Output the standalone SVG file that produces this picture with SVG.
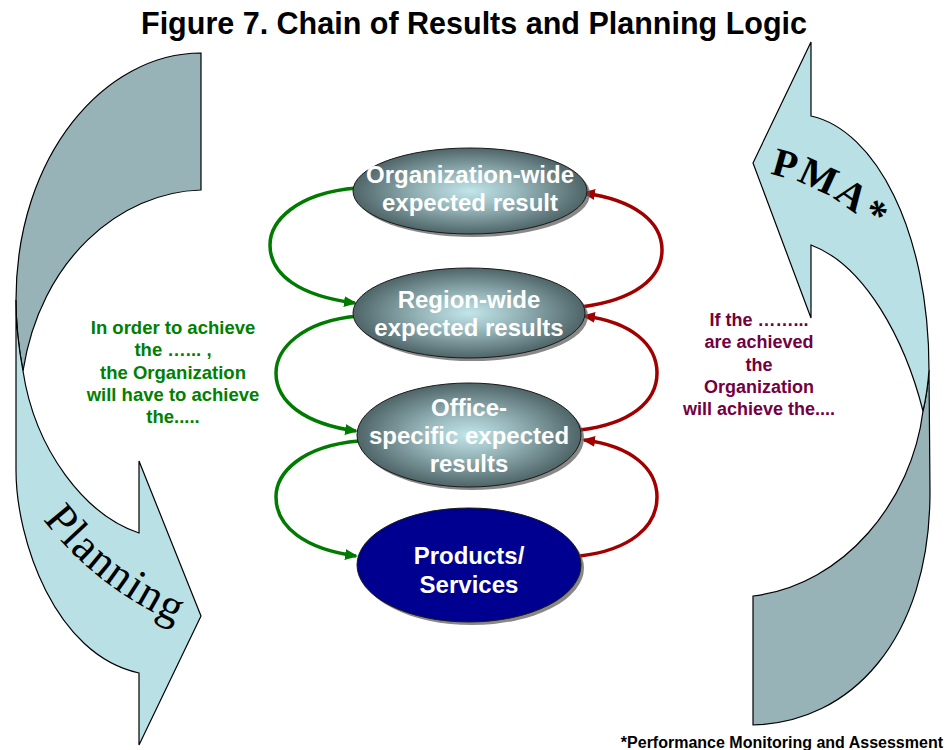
<svg xmlns="http://www.w3.org/2000/svg" width="945" height="750" viewBox="0 0 945 750">
<defs>
<style>
.band-dark{fill:#97B3B8;stroke:#000;stroke-width:1.2}
.band-light{fill:#B9E0E5;stroke:#000;stroke-width:1.2}
.eltxt{font-family:"Liberation Sans",Arial,sans-serif;font-weight:bold;font-size:24px;fill:#fff;text-anchor:middle}
.gtxt{font-family:"Liberation Sans",Arial,sans-serif;font-weight:bold;font-size:18.5px;fill:#008000;text-anchor:middle}
.rtxt{font-family:"Liberation Sans",Arial,sans-serif;font-weight:bold;font-size:18px;fill:#730040;text-anchor:middle}
.gc{fill:none;stroke:#007A00;stroke-width:3.5}
.rc{fill:none;stroke:#A00000;stroke-width:3.5}
.shadow{fill:#555;opacity:0.7}
.gray{fill:url(#gg);stroke:#1a1a1a;stroke-width:1}
</style>
<radialGradient id="gg" cx="50%" cy="50%" r="50%">
<stop offset="0" stop-color="#C2E6EA"/>
<stop offset="0.45" stop-color="#93B2B6"/>
<stop offset="1" stop-color="#4F6568"/>
</radialGradient>
<marker id="ag" markerWidth="13" markerHeight="11" refX="11" refY="5.5" orient="auto" markerUnits="userSpaceOnUse"><path d="M0,0 L13,5.5 L0,11 Z" fill="#007A00"/></marker>
<marker id="ar" markerWidth="13" markerHeight="11" refX="11" refY="5.5" orient="auto" markerUnits="userSpaceOnUse"><path d="M0,0 L13,5.5 L0,11 Z" fill="#A00000"/></marker>
<path id="pPlan" d="M38,513 C75,563 125,606 210,638"/>
<path id="pPma" d="M760,172 C800,179 848,198 885,244"/>
</defs>

<text x="474" y="34" font-family="Liberation Sans,Arial,sans-serif" font-weight="bold" font-size="30.5" text-anchor="middle" fill="#000">Figure 7. Chain of Results and Planning Logic</text>

<g id="planning-arrow">
<path class="band-dark" d="M201,53 C105,53 16,155 16,300 C16,330 19,350 23,371 C40,260 120,192 201,190 Z"/>
<path class="band-light" d="M16,300 L16,470 C16,540 55,655 139,673 L139,745 L201,616 L139,461 L139,533 C85,515 35,450 23,371 C19,350 16,330 16,300 Z"/>
<text font-family="Liberation Serif,Times New Roman,serif" font-size="45" letter-spacing="1.5" fill="#000"><textPath href="#pPlan" startOffset="8">Planning</textPath></text>
</g>

<g id="pma-arrow">
<path class="band-dark" d="M929,370 L930,492 C930,640 850,723 753,725 L753,596 C845,585 912,500 923,411 C926,398 928,385 929,370 Z"/>
<path class="band-light" d="M811,245 L811,318 L753,163 L811,42 L811,116 C875,130 929,230 929,370 C928,385 926,398 923,411 C905,340 865,265 811,245 Z"/>
<text font-family="Liberation Serif,Times New Roman,serif" font-weight="bold" font-size="40" letter-spacing="2.5" fill="#000"><textPath href="#pPma" startOffset="10">PMA*</textPath></text>
</g>

<g id="connectors">
<path class="gc" marker-end="url(#ag)" d="M357,188 C295,193 270,222 270,245 C270,275 300,296 355,303"/>
<path class="gc" marker-end="url(#ag)" d="M359,316 C300,321 276,350 276,373 C276,402 305,424 356,431"/>
<path class="gc" marker-end="url(#ag)" d="M359,441 C300,446 276,474 276,497 C276,527 305,549 356,556"/>
<path class="rc" marker-end="url(#ar)" d="M581,307 C635,300 662,278 662,250 C662,222 635,200 584,193"/>
<path class="rc" marker-end="url(#ar)" d="M580,430 C630,424 657,402 657,373 C657,345 632,322 584,316"/>
<path class="rc" marker-end="url(#ar)" d="M580,556 C630,550 657,527 657,497 C657,469 632,446 584,440"/>
</g>

<g id="node-org">
<ellipse class="shadow" cx="473" cy="194" rx="117" ry="43"/>
<ellipse class="gray" cx="470" cy="191" rx="117" ry="43"/>
<text class="eltxt" x="470" y="183">Organization-wide</text>
<text class="eltxt" x="470" y="211">expected result</text>
</g>

<g id="node-region">
<ellipse class="shadow" cx="472" cy="316" rx="116" ry="45"/>
<ellipse class="gray" cx="469" cy="313" rx="116" ry="45"/>
<text class="eltxt" x="469" y="308">Region-wide</text>
<text class="eltxt" x="469" y="336">expected results</text>
</g>

<g id="node-office">
<ellipse class="shadow" cx="472" cy="438" rx="112" ry="52"/>
<ellipse class="gray" cx="469" cy="435" rx="112" ry="52"/>
<text class="eltxt" x="469" y="416">Office-</text>
<text class="eltxt" x="469" y="444">specific expected</text>
<text class="eltxt" x="469" y="472">results</text>
</g>

<g id="node-products">
<ellipse class="shadow" cx="472" cy="568" rx="112" ry="57"/>
<ellipse cx="469" cy="565" rx="112" ry="57" fill="#000090" stroke="#1a1a1a" stroke-width="1"/>
<text class="eltxt" x="469" y="564">Products/</text>
<text class="eltxt" x="469" y="593">Services</text>
</g>

<g id="planning-note">
<text class="gtxt" x="173" y="334">In order to achieve</text>
<text class="gtxt" x="173" y="356">the …... ,</text>
<text class="gtxt" x="173" y="379">the Organization</text>
<text class="gtxt" x="173" y="401">will have to achieve</text>
<text class="gtxt" x="173" y="423">the.....</text>
</g>

<g id="pma-note">
<text class="rtxt" x="759" y="326">If the ……...</text>
<text class="rtxt" x="759" y="348">are achieved</text>
<text class="rtxt" x="759" y="371">the</text>
<text class="rtxt" x="759" y="393">Organization</text>
<text class="rtxt" x="759" y="415">will achieve the....</text>
</g>

<text x="943" y="748" font-family="Liberation Sans,Arial,sans-serif" font-weight="bold" font-size="16" text-anchor="end" fill="#000">*Performance Monitoring and Assessment</text>
</svg>
